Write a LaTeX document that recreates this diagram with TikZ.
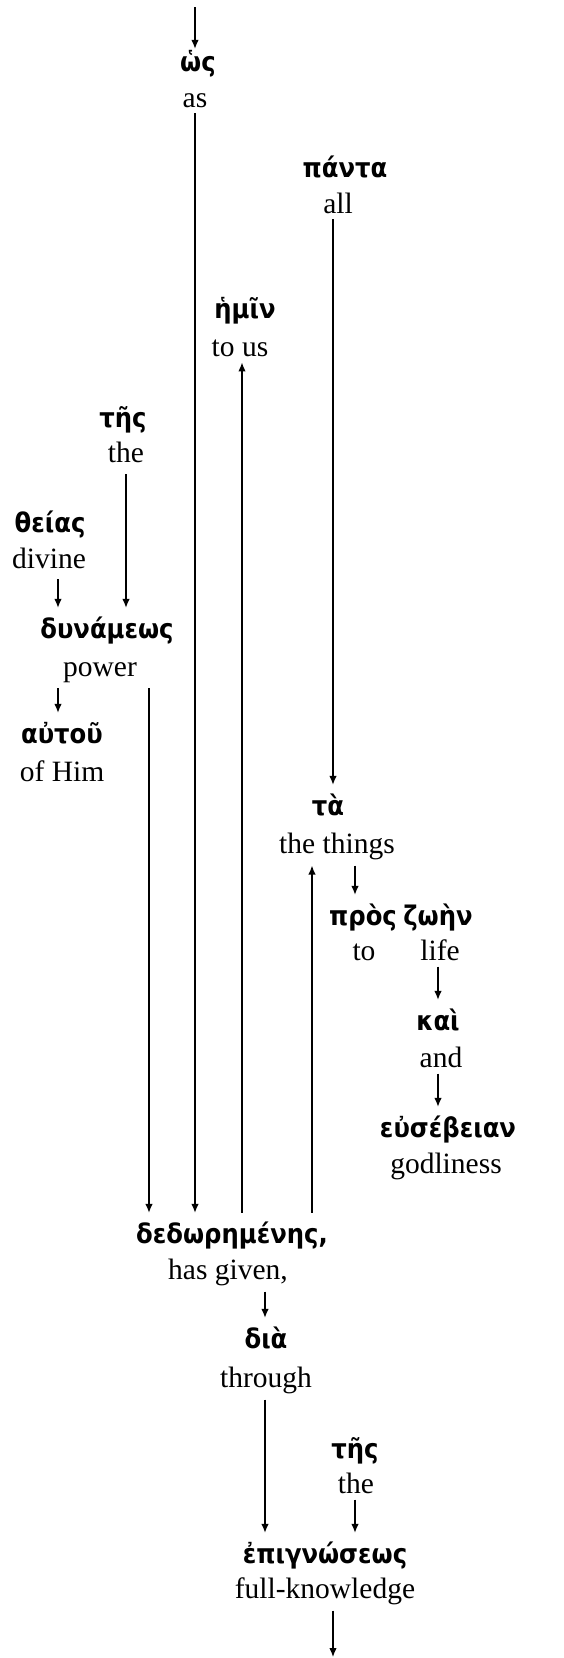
\documentclass[tikz,border=0pt]{standalone}
\usepackage{fontspec}
\setmainfont{Liberation Serif}
\newfontfamily\grk{DejaVu Sans}[FakeStretch=0.9]
\usetikzlibrary{arrows.meta}
\begin{document}
\begin{tikzpicture}[x=1pt,y=-1pt,
  gr/.style={font=\grk\bfseries\fontsize{27}{32}\selectfont, anchor=base, inner sep=0pt, text height=24pt, inner ysep=6pt},
  en/.style={font=\fontsize{29.5}{34}\selectfont, anchor=base, inner xsep=0pt, inner ysep=6pt},
  arr/.style={line width=1.3pt, -{Latex[length=9pt,width=7.5pt]}},
  ln/.style={line width=1.3pt}]
\useasboundingbox (0,0) rectangle (564,1658);
% Greek words
\node[gr] (g-hos) at (198,71) {ὡς};
\node[gr] (g-panta) at (345,177) {πάντα};
\node[gr] (g-hemin) at (245,318) {ἡμῖν};
\node[gr] (g-tes1) at (123,427) {τῆς};
\node[gr] (g-theias) at (50,532) {θείας};
\node[gr] (g-dyn) at (107,638) {δυνάμεως};
\node[gr] (g-autou) at (62,743) {αὐτοῦ};
\node[gr] (g-ta) at (328,815) {τὰ};
\node[gr] (g-pros) at (363,925) {πρὸς};
\node[gr] (g-zoen) at (438,925) {ζωὴν};
\node[gr] (g-kai) at (438,1030) {καὶ};
\node[gr] (g-eus) at (448,1137) {εὐσέβειαν};
\node[gr] (g-ded) at (232,1243) {δεδωρημένης,};
\node[gr] (g-dia) at (266,1348) {διὰ};
\node[gr] (g-tes2) at (355,1458) {τῆς};
\node[gr] (g-epi) at (325,1563) {ἐπιγνώσεως};
% English glosses
\node[en] (e-as) at (195,107) {as};
\node[en] (e-all) at (338,213) {all};
\node[en] (e-tous) at (240,356) {to us};
\node[en] (e-the1) at (126,462) {the};
\node[en] (e-divine) at (49,568) {divine};
\node[en] (e-power) at (100,676) {power};
\node[en] (e-ofhim) at (62,781) {of Him};
\node[en] (e-things) at (337,853) {the things};
\node[en] (e-to) at (364,960) {to};
\node[en] (e-life) at (440,960) {life};
\node[en] (e-and) at (441,1067) {and};
\node[en] (e-godl) at (446,1173) {godliness};
\node[en] (e-given) at (228,1279) {has given,};
\node[en] (e-through) at (266,1387) {through};
\node[en] (e-the2) at (356,1493) {the};
\node[en] (e-full) at (325,1598) {full-knowledge};
% free ends
\coordinate (top) at (195,7);
\coordinate (bottom) at (333,1657);
% connectors
\draw[arr, shorten >=-8pt] (top) -- (g-hos.north -| top);
\draw[arr] (e-as.south -| 195,0) -- (g-ded.north -| 195,0);
\draw[arr] (e-all.south -| 333,0) -- (g-ta.north -| 333,0);
\draw[arr] (g-ded.north -| 242,0) -- (e-tous.south -| 242,0);
\draw[arr, shorten <=6pt] (e-the1.south -| 126,0) -- (g-dyn.north -| 126,0);
\draw[arr, shorten <=5pt] (e-divine.south -| 58,0) -- (g-dyn.north -| 58,0);
\draw[arr] (e-power.south -| 58,0) -- (g-autou.north -| 58,0);
\draw[arr] (e-power.south -| 149,0) -- (g-ded.north -| 149,0);
\draw[arr] (g-ded.north -| 312,0) -- (e-things.south -| 312,0);
\draw[arr] (e-things.south -| 355,0) -- (g-pros.north -| 355,0);
\draw[arr] (e-life.south -| 438,0) -- (g-kai.north -| 438,0);
\draw[arr] (e-and.south -| 438,0) -- (g-eus.north -| 438,0);
\draw[arr] (e-given.south -| 265,0) -- (g-dia.north -| 265,0);
\draw[arr] (e-through.south -| 265,0) -- (g-epi.north -| 265,0);
\draw[arr] (e-the2.south -| 355,0) -- (g-epi.north -| 355,0);
\draw[arr] (e-full.south -| 333,0) -- (bottom);
\end{tikzpicture}
\end{document}
